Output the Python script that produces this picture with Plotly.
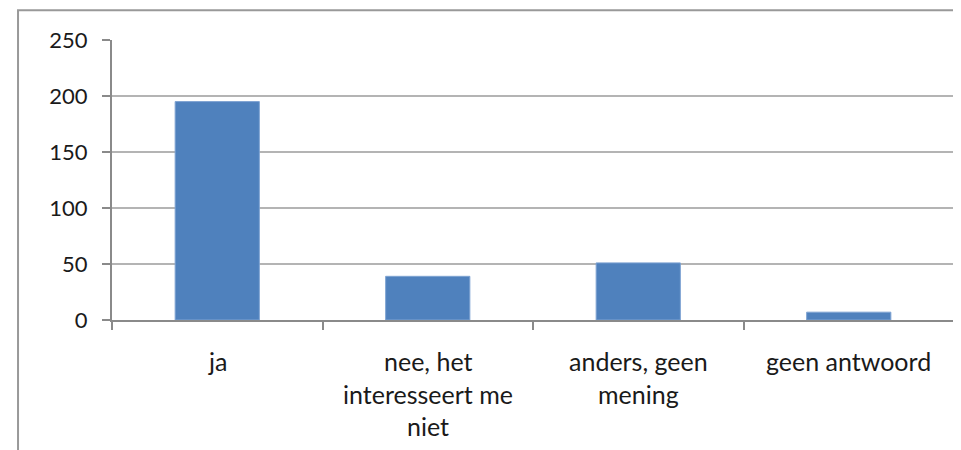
import plotly.graph_objects as go

categories = ["ja", "nee, het interesseert me niet", "anders, geen mening", "geen antwoord"]
label_lines = [["ja"], ["nee, het", "interesseert me", "niet"], ["anders, geen", "mening"], ["geen antwoord"]]
values = [195, 39, 51, 7]
y_ticks = [0, 50, 100, 150, 200, 250]

fig = go.Figure()
fig.add_trace(go.Bar(
    x=categories, y=values,
    marker=dict(color="#4f81bd", line=dict(color="#7ea3d2", width=1)),
    width=0.4,
))

font_family = "Lato, 'Open Sans', sans-serif"
fig.update_layout(
    width=953, height=442,
    margin=dict(l=104, r=7, t=32, b=130),
    paper_bgcolor="white", plot_bgcolor="white",
    showlegend=False,
    font=dict(family=font_family, size=22, color="#1a1a1a"),
)
fig.update_xaxes(
    type="category",
    showline=True, linecolor="#8a8a8a", linewidth=2,
    ticks="outside", tickson="boundaries", ticklen=8, tickwidth=2, tickcolor="#8a8a8a",
    showticklabels=False,
    showgrid=False,
)
fig.update_yaxes(
    range=[0, 250], tickvals=y_ticks,
    showline=True, linecolor="#8a8a8a", linewidth=2,
    ticks="outside", ticklen=8, tickwidth=2, tickcolor="#8a8a8a",
    ticklabelstandoff=10,
    showgrid=True, gridcolor="#b4b4b4", gridwidth=2,
    zeroline=False,
)
for cat, lines in zip(categories, label_lines):
    for i, line in enumerate(lines):
        fig.add_annotation(
            x=cat, y=0, xref="x", yref="y", text=line, showarrow=False,
            yanchor="middle", xanchor="center", yshift=-(41 + i * 32.5),
            font=dict(size=25, family=font_family, color="#1a1a1a"),
        )
fig.add_shape(
    type="rect", xref="paper", yref="paper",
    x0=-0.1116, x1=1.02, y0=-0.6, y1=1.106,
    line=dict(color="#999999", width=2), fillcolor="rgba(0,0,0,0)", layer="below",
)
fig.write_html("out.html")
